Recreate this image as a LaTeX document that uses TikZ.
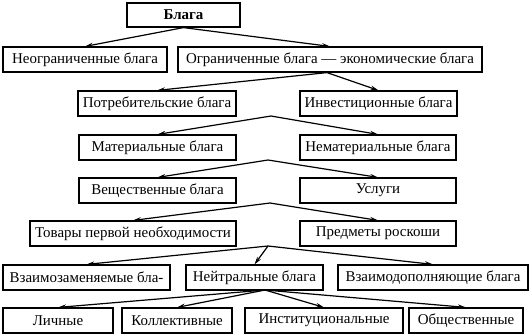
\documentclass[tikz,border=0pt]{standalone}
\usepackage{fontspec}
\setmainfont{Liberation Serif}
\usepackage{tikz}
\usetikzlibrary{arrows.meta, positioning, calc}
\tikzset{
  % Box and arrow styles
  goodbox/.style={rectangle, draw=black, line width=1.2bp, fill=white, minimum height=25bp, inner sep=2bp, text centered, font=\fontsize{15}{17}\selectfont},
  arrow/.style={-{Stealth[length=8bp, width=4.5bp]}, line width=1.2bp},
}
\begin{document}
\begin{tikzpicture}[x=1bp, y=-1bp]
    \useasboundingbox (0,0) rectangle (530,335);

    % Top
    \node[goodbox, minimum width=113bp, minimum height=24bp, font=\fontsize{15}{17}\selectfont\bfseries] (blaga) at (183.5,15) {Блага};

    % Level 1
    \node[goodbox, minimum width=164bp] (neogr) at (85,59.5) {Неограниченные блага};
    \node[goodbox, minimum width=304bp] (ogr) at (330,59.5) {Ограниченные блага --- экономические блага};

    % Level 2
    \node[goodbox, minimum width=158bp] (potr) at (157,103.5) {Потребительские блага};
    \node[goodbox, minimum width=157bp] (invest) at (378.5,103.5) {Инвестиционные блага};

    % Level 3
    \node[goodbox, minimum width=157bp] (mat) at (157.5,147.5) {Материальные блага};
    \node[goodbox, minimum width=156bp] (nemat) at (378,147.5) {Нематериальные блага};

    % Level 4
    \node[goodbox, minimum width=157bp] (vesh) at (157.5,190.5) {Вещественные блага};
    \node[goodbox, minimum width=156bp] (uslugi) at (378,190.5) {Услуги};

    % Level 5
    \node[goodbox, minimum width=206bp] (tovary) at (133,233.5) {Товары первой необходимости};
    \node[goodbox, minimum width=156bp] (predm) at (378,233.5) {Предметы роскоши};

    % Level 6
    \node[goodbox, minimum width=167bp] (zamen) at (86.5,277.5) {Взаимозаменяемые бла-};
    \node[goodbox, minimum width=137bp] (neitr) at (254.5,277.5) {Нейтральные блага};
    \node[goodbox, minimum width=190bp] (dopoln) at (433,277.5) {Взаимодополняющие блага};

    % Level 7
    \node[goodbox, minimum width=110bp] (lichn) at (58,320.5) {Личные};
    \node[goodbox, minimum width=110bp] (koll) at (177,320.5) {Коллективные};
    \node[goodbox, minimum width=158bp] (inst) at (324,320.5) {Институциональные};
    \node[goodbox, minimum width=114bp] (obsh) at (466,320.5) {Общественные};

    % Branch points between the boxes
    \coordinate (j3) at (271,116);
    \coordinate (j4) at (268,160);
    \coordinate (j5) at (270,203);
    \coordinate (j6) at (268,246);
    \coordinate (j7) at (265,290);

    % Arrows
    \draw[arrow] (blaga.south) -- (neogr.north);
    \draw[arrow] (blaga.south) -- (ogr.north);
    \draw[arrow] ([xshift=-3bp]ogr.south) -- (potr.north);
    \draw[arrow] ([xshift=-3bp]ogr.south) -- (invest.north);
    \draw[arrow] (j3) -- (mat.north);
    \draw[arrow] (j3) -- (nemat.north);
    \draw[arrow] (j4) -- (vesh.north);
    \draw[arrow] (j4) -- (uslugi.north);
    \draw[arrow] (j5) -- (tovary.north);
    \draw[arrow] (j5) -- (predm.north);
    \draw[arrow] (j6) -- (zamen.north);
    \draw[arrow] (j6) -- (neitr.north);
    \draw[arrow] (j6) -- (dopoln.north);
    \draw[arrow] (j7) -- (lichn.north);
    \draw[arrow] (j7) -- (koll.north);
    \draw[arrow] (j7) -- (inst.north);
    \draw[arrow] (j7) -- (obsh.north);
\end{tikzpicture}
\end{document}
